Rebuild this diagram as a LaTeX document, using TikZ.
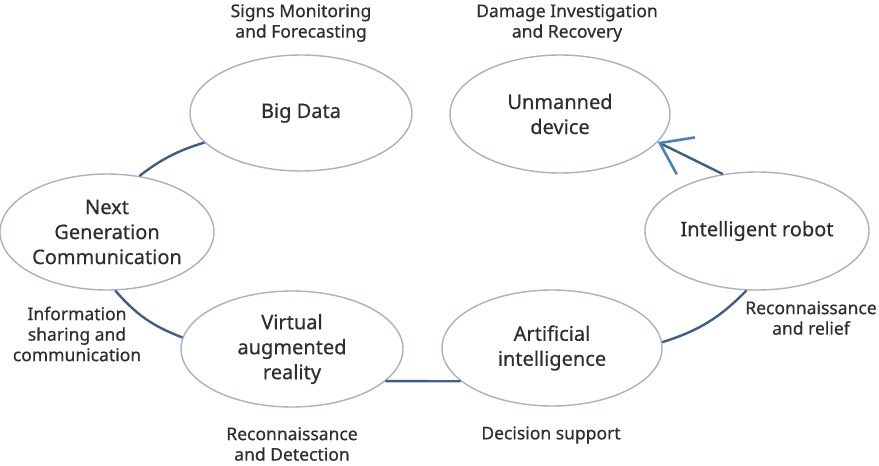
\documentclass[tikz,border=0pt]{standalone}
\usepackage{fontspec}
\setmainfont{Noto Sans}
\newfontfamily\dfont{Noto Sans}[FakeBold=0.5]
\usetikzlibrary{shapes.geometric,arrows.meta}
\definecolor{ellcol}{HTML}{A8B2C0}
\definecolor{concol}{HTML}{3D5F86}
\definecolor{tipcol}{HTML}{4A80C4}
\definecolor{txtcol}{HTML}{2E2E2E}
\tikzset{
  ell/.style={ellipse, draw=ellcol, line width=1.4pt, inner sep=0pt, fill=white,
    text=txtcol, align=center, font=\dfont\fontsize{20}{25}\selectfont},
  lbl/.style={text=txtcol, align=center, font=\dfont\fontsize{17.5}{20.5}\selectfont, inner sep=0pt},
  conn/.style={draw=concol, line width=2.4pt},
}
\begin{document}
\begin{tikzpicture}[x=1pt,y=-1pt]
\useasboundingbox (0,0) rectangle (879,466);
\fill[white] (0,0) rectangle (879,466);
% nodes
\node[ell, minimum width=222pt, minimum height=116pt] (bd) at (301,113) {Big Data};
\node[ell, minimum width=220pt, minimum height=118pt] (ud) at (560,114) {Unmanned\\device};
\node[ell, minimum width=214pt, minimum height=116pt] (ngc) at (107,232) {Next\\Generation\\Communication};
\node[ell, minimum width=224pt, minimum height=118pt] (ir) at (757,231) {Intelligent robot};
\node[ell, minimum width=222pt, minimum height=116pt] (var) at (292,349) {Virtual\\augmented\\reality};
\node[ell, minimum width=220pt, minimum height=116pt] (ai) at (552,348) {Artificial\\intelligence};
% labels
\node[lbl] (l1) at (301,23) {Signs Monitoring\\and Forecasting};
\node[lbl] (l2) at (567,23) {Damage Investigation\\and Recovery};
\node[lbl] (l3) at (77,334) {Information\\sharing and\\communication};
\node[lbl] (l4) at (292,444) {Reconnaissance\\and Detection};
\node[lbl] (l5) at (551,435) {Decision support};
\node[lbl] (l6) at (811,318) {Reconnaissance\\and relief};
% connectors
\draw[conn] (bd.197) to[bend right=10] (ngc.60);
\draw[conn] (ngc.278) to[bend right=14] (var.174);
\draw[conn] (var.-19.5) -- (ai.200.5);
\draw[conn] (ai.3) to[bend right=14] (ir.260);
\draw[conn, -{Straight Barb[length=29pt, width=41pt, line width=2.6pt, color=tipcol]}] (ir.121) -- (ud.-16);
\end{tikzpicture}
\end{document}
